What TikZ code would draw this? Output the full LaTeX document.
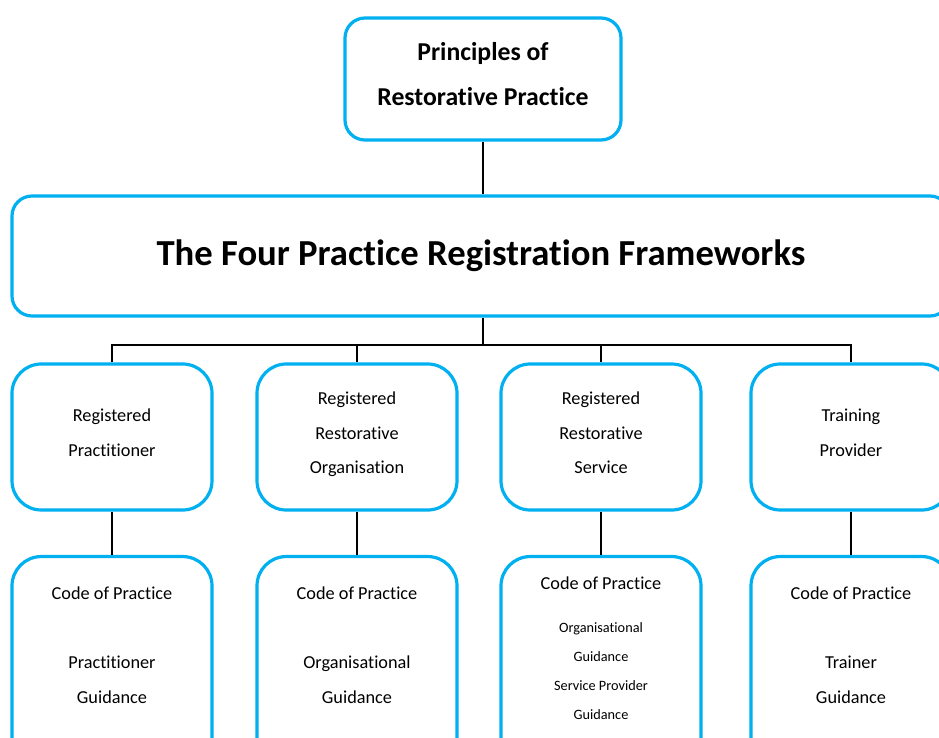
\documentclass[tikz,border=0pt]{standalone}
\usepackage{fontspec}
\setmainfont{Carlito}[Ligatures=NoCommon]
\usetikzlibrary{
  positioning,  % Function "of" (e.g. [below=of x])
  calc          % Calculations $...$
}
\definecolor{framecyan}{HTML}{00B0F0}
\def\mygap{32.5pt}
\def\myline{25.9pt}
\tikzset{
  x=0.75pt,
  y=-0.75pt,
  link/.style={
    line width=1.4pt,
    draw=black
  },
  lift/.style={
    execute at end node={\rule[-#1]{0pt}{0pt}}
  },
  my box/.style={
    draw=framecyan,
    line width=2.4pt,
    rectangle,
    inner sep=0pt,
    align=center
  },
  head box/.style={
    my box,
    minimum width=207pt,
    minimum height=91.5pt,
    rounded corners=15pt,
    lift=7.5pt,
    font=\fontsize{19.3}{33.75}\selectfont\bfseries
  },
  title box/.style={
    my box,
    minimum width=703.5pt,
    minimum height=90pt,
    rounded corners=15pt,
    lift=4.5pt,
    font=\fontsize{27.5}{33}\selectfont\bfseries
  },
  kind box/.style={
    my box,
    minimum width=150pt,
    minimum height=109.5pt,
    rounded corners=22pt,
    lift=6.5pt,
    font=\fontsize{13.7}{\myline}\selectfont
  },
  code box/.style={
    kind box,
    minimum height=165pt
  },
  code text/.style={
    inner sep=0pt,
    align=center,
    font=\fontsize{13.7}{\myline}\selectfont
  },
  small text/.style={
    inner sep=0pt,
    align=center,
    font=\fontsize{10.7}{21.75}\selectfont
  }
}

\begin{document}
\begin{tikzpicture}
\useasboundingbox (0,0) rectangle (939,738);
\clip (0,0) rectangle (939,738);
% top of the tree
\node[head box] (principles) at (483,79) {Principles of\\Restorative Practice};
\node[title box] (frameworks) at (481,256) {The Four Practice Registration Frameworks};
\coordinate (bus) at (483,345);
% the four frameworks
\node[kind box] (prac) at (112,437) {Registered\\Practitioner};
\node[kind box] (org) at (357,437) {Registered\\Restorative\\Organisation};
\node[kind box] (serv) at (601,437) {Registered\\Restorative\\Service};
\node[kind box] (train) at (851,437) {Training\\Provider};
% codes of practice
\node[code box] (prac code) [below=\mygap of prac] {};
\node[code box] (org code) [below=\mygap of org] {};
\node[code box] (serv code) [below=\mygap of serv] {};
\node[code box] (train code) [below=\mygap of train] {};
\node[code text] (prac text) [below=24pt of prac code.north] {Code of Practice\\[\myline]Practitioner\\Guidance};
\node[code text] (org text) [below=24pt of org code.north] {Code of Practice\\[\myline]Organisational\\Guidance};
\node[code text] (serv text) [below=16pt of serv code.north] {Code of Practice};
\node[small text] (serv guide) [below=24.5pt of serv text] {Organisational\\Guidance\\Service Provider\\Guidance};
\node[code text] (train text) [below=24pt of train code.north] {Code of Practice\\[\myline]Trainer\\Guidance};
% connectors
\path[link] (principles) edge (principles |- frameworks.north)
            (bus |- frameworks.south) edge (bus)
            (org |- bus) edge (org)
            (serv |- bus) edge (serv)
            (prac) edge (prac code)
            (org) edge (org code)
            (serv) edge (serv code)
            (train) edge (train code);
\draw[link] (prac.north) |- (bus) -| (train.north);
\end{tikzpicture}
\end{document}
